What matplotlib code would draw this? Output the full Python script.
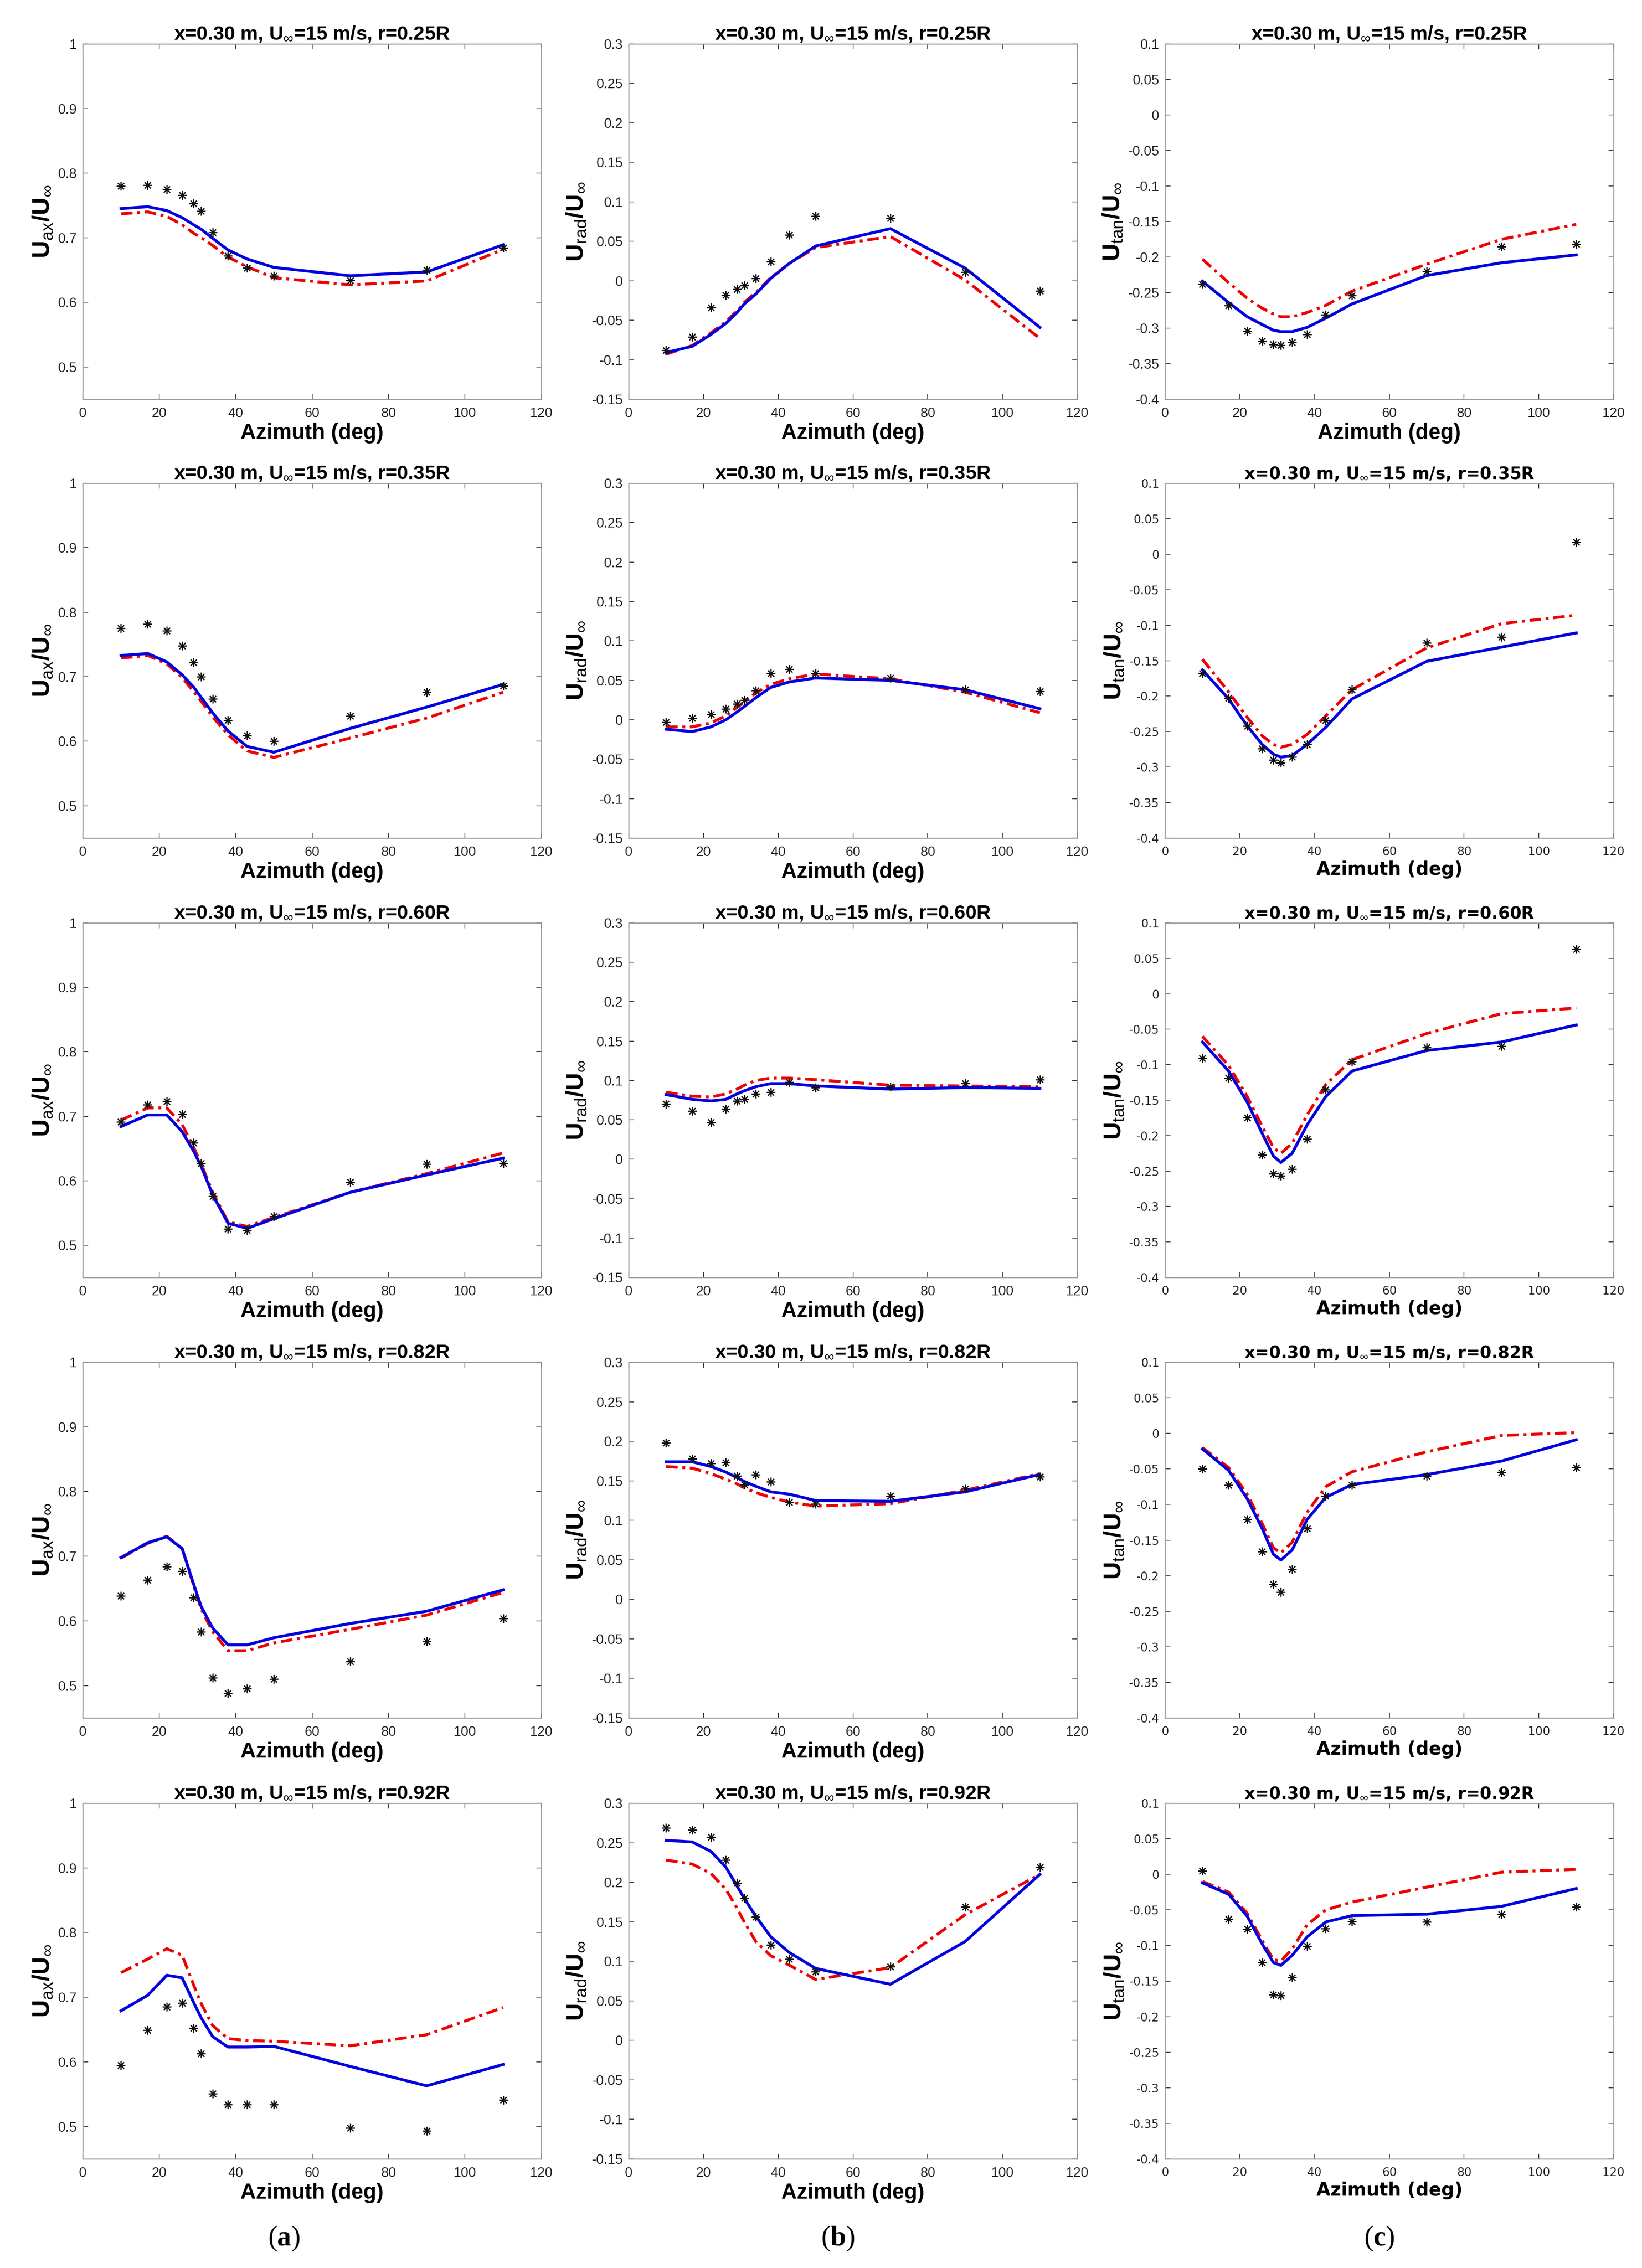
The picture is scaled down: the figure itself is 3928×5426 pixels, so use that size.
import matplotlib
matplotlib.use('Agg')
import matplotlib.pyplot as plt
from matplotlib.ticker import FuncFormatter, MultipleLocator
from matplotlib.text import Annotation

plt.rcParams['font.family'] = ['Liberation Sans', 'DejaVu Sans']
plt.rcParams['mathtext.fontset'] = 'custom'
plt.rcParams['mathtext.rm'] = 'Liberation Sans'
plt.rcParams['mathtext.it'] = 'Liberation Sans:italic'
plt.rcParams['mathtext.bf'] = 'Liberation Sans:bold'

# --[data]---------------------------------------------------------------------
azimuth = [10, 17, 22, 26, 29, 31, 34, 38, 43, 50, 70, 90, 110]
radii = ['0.25', '0.35', '0.60', '0.82', '0.92']

# axial velocity, column (a)
ax_r025_exp = [0.780, 0.781, 0.775, 0.766, 0.753, 0.741, 0.708, 0.672, 0.653, 0.641, 0.634, 0.650, 0.684]
ax_r025_m1 = [0.745, 0.748, 0.742, 0.731, 0.720, 0.713, 0.699, 0.681, 0.667, 0.654, 0.641, 0.647, 0.689]
ax_r025_m2 = [0.737, 0.740, 0.733, 0.720, 0.707, 0.700, 0.688, 0.670, 0.655, 0.638, 0.627, 0.633, 0.682]

ax_r035_exp = [0.775, 0.782, 0.771, 0.748, 0.722, 0.700, 0.666, 0.633, 0.609, 0.600, 0.639, 0.676, 0.686]
ax_r035_m1 = [0.733, 0.736, 0.723, 0.703, 0.684, 0.668, 0.644, 0.616, 0.592, 0.583, 0.620, 0.653, 0.688]
ax_r035_m2 = [0.729, 0.733, 0.720, 0.699, 0.677, 0.662, 0.638, 0.610, 0.585, 0.575, 0.605, 0.636, 0.676]

ax_r060_exp = [0.691, 0.718, 0.723, 0.703, 0.659, 0.627, 0.576, 0.525, 0.523, 0.545, 0.598, 0.626, 0.627]
ax_r060_m1 = [0.684, 0.702, 0.702, 0.676, 0.646, 0.622, 0.578, 0.534, 0.526, 0.541, 0.582, 0.609, 0.635]
ax_r060_m2 = [0.694, 0.713, 0.713, 0.687, 0.652, 0.626, 0.582, 0.536, 0.529, 0.543, 0.582, 0.611, 0.643]

ax_r082_exp = [0.639, 0.663, 0.684, 0.677, 0.636, 0.583, 0.512, 0.488, 0.495, 0.510, 0.537, 0.568, 0.604]
ax_r082_m1 = [0.698, 0.721, 0.730, 0.712, 0.657, 0.622, 0.589, 0.563, 0.563, 0.574, 0.596, 0.615, 0.648]
ax_r082_m2 = [0.697, 0.720, 0.731, 0.712, 0.655, 0.618, 0.583, 0.554, 0.554, 0.566, 0.587, 0.609, 0.644]

ax_r092_exp = [0.595, 0.649, 0.685, 0.691, 0.652, 0.613, 0.551, 0.534, 0.534, 0.534, 0.498, 0.493, 0.541]
ax_r092_m1 = [0.679, 0.703, 0.734, 0.730, 0.692, 0.668, 0.639, 0.623, 0.623, 0.624, 0.593, 0.563, 0.596]
ax_r092_m2 = [0.738, 0.759, 0.775, 0.765, 0.719, 0.690, 0.656, 0.636, 0.633, 0.632, 0.625, 0.642, 0.684]

# radial velocity, column (b)
rad_r025_exp = [-0.088, -0.071, -0.034, -0.018, -0.011, -0.006, 0.003, 0.024, 0.058, 0.082, 0.079, 0.011, -0.013]
rad_r025_m1 = [-0.091, -0.083, -0.068, -0.054, -0.040, -0.029, -0.017, 0.003, 0.022, 0.044, 0.066, 0.016, -0.059]
rad_r025_m2 = [-0.093, -0.082, -0.066, -0.052, -0.038, -0.027, -0.015, 0.004, 0.022, 0.042, 0.056, 0.001, -0.073]

rad_r035_exp = [-0.003, 0.002, 0.007, 0.014, 0.020, 0.025, 0.037, 0.059, 0.064, 0.059, 0.053, 0.038, 0.036]
rad_r035_m1 = [-0.012, -0.015, -0.009, 0.000, 0.010, 0.017, 0.028, 0.041, 0.048, 0.053, 0.050, 0.038, 0.014]
rad_r035_m2 = [-0.009, -0.009, -0.004, 0.005, 0.016, 0.023, 0.034, 0.045, 0.052, 0.058, 0.052, 0.035, 0.009]

rad_r060_exp = [0.070, 0.061, 0.047, 0.064, 0.074, 0.076, 0.083, 0.085, 0.098, 0.091, 0.092, 0.096, 0.101]
rad_r060_m1 = [0.082, 0.076, 0.074, 0.076, 0.083, 0.087, 0.092, 0.096, 0.096, 0.093, 0.089, 0.091, 0.090]
rad_r060_m2 = [0.085, 0.080, 0.079, 0.083, 0.089, 0.094, 0.100, 0.103, 0.103, 0.101, 0.094, 0.093, 0.092]

rad_r082_exp = [0.198, 0.178, 0.172, 0.173, 0.156, 0.145, 0.158, 0.149, 0.123, 0.121, 0.131, 0.140, 0.155]
rad_r082_m1 = [0.174, 0.174, 0.168, 0.161, 0.154, 0.149, 0.143, 0.136, 0.133, 0.125, 0.124, 0.136, 0.158]
rad_r082_m2 = [0.168, 0.166, 0.159, 0.152, 0.146, 0.141, 0.135, 0.129, 0.123, 0.118, 0.121, 0.138, 0.159]

rad_r092_exp = [0.269, 0.266, 0.257, 0.228, 0.199, 0.180, 0.156, 0.121, 0.103, 0.087, 0.093, 0.169, 0.219]
rad_r092_m1 = [0.253, 0.251, 0.239, 0.219, 0.195, 0.179, 0.157, 0.131, 0.111, 0.091, 0.071, 0.125, 0.210]
rad_r092_m2 = [0.228, 0.223, 0.211, 0.191, 0.167, 0.149, 0.125, 0.107, 0.095, 0.077, 0.092, 0.159, 0.210]

# tangential velocity, column (c)
tan_r025_exp = [-0.238, -0.268, -0.304, -0.318, -0.323, -0.324, -0.320, -0.309, -0.281, -0.254, -0.220, -0.185, -0.182]
tan_r025_m1 = [-0.234, -0.264, -0.284, -0.295, -0.303, -0.305, -0.305, -0.299, -0.286, -0.266, -0.226, -0.208, -0.197]
tan_r025_m2 = [-0.203, -0.236, -0.258, -0.272, -0.280, -0.284, -0.284, -0.278, -0.268, -0.248, -0.210, -0.175, -0.154]

tan_r035_exp = [-0.168, -0.203, -0.242, -0.274, -0.290, -0.294, -0.286, -0.268, -0.234, -0.191, -0.125, -0.117, 0.017]
tan_r035_m1 = [-0.163, -0.204, -0.242, -0.268, -0.282, -0.286, -0.284, -0.268, -0.244, -0.204, -0.151, -0.131, -0.111]
tan_r035_m2 = [-0.148, -0.194, -0.230, -0.256, -0.268, -0.272, -0.268, -0.254, -0.228, -0.191, -0.132, -0.098, -0.086]

tan_r060_exp = [-0.091, -0.119, -0.175, -0.227, -0.254, -0.257, -0.247, -0.205, -0.135, -0.096, -0.076, -0.074, 0.063]
tan_r060_m1 = [-0.068, -0.109, -0.153, -0.197, -0.229, -0.238, -0.225, -0.185, -0.145, -0.109, -0.080, -0.068, -0.044]
tan_r060_m2 = [-0.060, -0.101, -0.145, -0.187, -0.217, -0.225, -0.211, -0.171, -0.128, -0.093, -0.056, -0.028, -0.020]

tan_r082_exp = [-0.050, -0.073, -0.121, -0.166, -0.212, -0.223, -0.191, -0.134, -0.088, -0.073, -0.060, -0.055, -0.048]
tan_r082_m1 = [-0.022, -0.052, -0.092, -0.134, -0.170, -0.178, -0.164, -0.121, -0.090, -0.072, -0.058, -0.039, -0.009]
tan_r082_m2 = [-0.020, -0.048, -0.086, -0.127, -0.161, -0.168, -0.153, -0.111, -0.075, -0.054, -0.026, -0.003, 0.001]

tan_r092_exp = [0.005, -0.063, -0.077, -0.124, -0.169, -0.170, -0.145, -0.101, -0.076, -0.066, -0.067, -0.056, -0.046]
tan_r092_m1 = [-0.012, -0.028, -0.059, -0.098, -0.124, -0.128, -0.114, -0.088, -0.067, -0.058, -0.056, -0.045, -0.020]
tan_r092_m2 = [-0.010, -0.025, -0.055, -0.093, -0.120, -0.122, -0.105, -0.071, -0.050, -0.039, -0.018, 0.003, 0.007]

columns = [
    [(ax_r025_exp, ax_r025_m1, ax_r025_m2), (ax_r035_exp, ax_r035_m1, ax_r035_m2),
     (ax_r060_exp, ax_r060_m1, ax_r060_m2), (ax_r082_exp, ax_r082_m1, ax_r082_m2),
     (ax_r092_exp, ax_r092_m1, ax_r092_m2)],
    [(rad_r025_exp, rad_r025_m1, rad_r025_m2), (rad_r035_exp, rad_r035_m1, rad_r035_m2),
     (rad_r060_exp, rad_r060_m1, rad_r060_m2), (rad_r082_exp, rad_r082_m1, rad_r082_m2),
     (rad_r092_exp, rad_r092_m1, rad_r092_m2)],
    [(tan_r025_exp, tan_r025_m1, tan_r025_m2), (tan_r035_exp, tan_r035_m1, tan_r035_m2),
     (tan_r060_exp, tan_r060_m1, tan_r060_m2), (tan_r082_exp, tan_r082_m1, tan_r082_m2),
     (tan_r092_exp, tan_r092_m1, tan_r092_m2)],
]
ylabels = [r'U$_{\mathrm{ax}}$/U$_{\infty}$', r'U$_{\mathrm{rad}}$/U$_{\infty}$', r'U$_{\mathrm{tan}}$/U$_{\infty}$']
ylims = [(0.45, 1.0, 0.1), (-0.15, 0.3, 0.05), (-0.4, 0.1, 0.05)]
panel_tags = ['a', 'b', 'c']

# --[layout in pixels]---------------------------------------------------------
W, H = 3928, 5426
col_left = [198, 1504, 2787]
col_right = [1295, 2577, 3860]
row_top = [105, 1156, 2208, 3259, 4314]
row_bot = [955, 2005, 3056, 4110, 5165]
tag_x = [680, 2005, 3300]


def matlab_fmt(v, pos):
    if abs(v) < 1e-9:
        return '0'
    return '%g' % round(v, 3)


fig = plt.figure(figsize=(W / 100, H / 100), dpi=100)
fig.patch.set_facecolor('white')

for c in range(3):
    for r in range(5):
        exp, m1, m2 = columns[c][r]
        rect = [col_left[c] / W, 1 - row_bot[r] / H,
                (col_right[c] - col_left[c]) / W, (row_bot[r] - row_top[r]) / H]
        ax = fig.add_axes(rect)

        # column (c) below the first row was rendered with a wider face
        if c == 2 and r > 0:
            fam, k = 'DejaVu Sans', 0.85
        else:
            fam, k = 'Liberation Sans', 1.0

        ax.plot(azimuth, m2, color='#ee0000', lw=5, linestyle=(0, (4, 1.6, 1, 1.6)), zorder=2)
        ax.plot(azimuth, m1, color='#0000e0', lw=5, linestyle='-', zorder=2.1)
        ax.plot(azimuth, exp, linestyle='none', marker=(8, 2, 0), ms=15, mew=1.8,
                color='#111111', zorder=3)

        lo, hi, step = ylims[c]
        ax.set_xlim(0, 120)
        ax.set_ylim(lo, hi)
        ax.xaxis.set_major_locator(MultipleLocator(20))
        ax.yaxis.set_major_locator(MultipleLocator(step))
        ax.xaxis.set_major_formatter(FuncFormatter(matlab_fmt))
        ax.yaxis.set_major_formatter(FuncFormatter(matlab_fmt))
        ax.tick_params(axis='both', direction='in', length=9, width=1.3, colors='#333333',
                       top=True, right=True, labelsize=23.5 * k, labelcolor='#262626')
        ax.tick_params(axis='x', pad=13.5)
        ax.tick_params(axis='y', pad=10)
        for lbl in ax.get_xticklabels() + ax.get_yticklabels():
            lbl.set_family(fam)
        for sp in ax.spines.values():
            sp.set_color('#9a9a9a')
            sp.set_linewidth(1.8)

        ax.set_title(r'x=0.30 m, U$_{\infty}$=15 m/s, r=' + radii[r] + 'R',
                     fontsize=34 * k, fontweight='bold', family=fam, pad=7)
        ax.set_xlabel('Azimuth (deg)', fontsize=37 * k, fontweight='bold', family=fam, labelpad=5)
        ax.set_ylabel(ylabels[c], fontsize=42, fontweight='bold', labelpad=6)

# --[panel tags (a) (b) (c)]---------------------------------------------------
for c in range(3):
    t = fig.text(tag_x[c] / W, 1 - 5355 / H, panel_tags[c], ha='center', va='center',
                 fontsize=48, fontweight='bold', family='Liberation Serif')
    for s, xy, ha in [('(', (0, 0), 'right'), (')', (1, 0), 'left')]:
        a = Annotation(s, xy=xy, xycoords=t, ha=ha, va='bottom',
                       fontsize=48, family='Liberation Serif')
        fig.add_artist(a)

fig.savefig('out.png', dpi=100, facecolor='white')
